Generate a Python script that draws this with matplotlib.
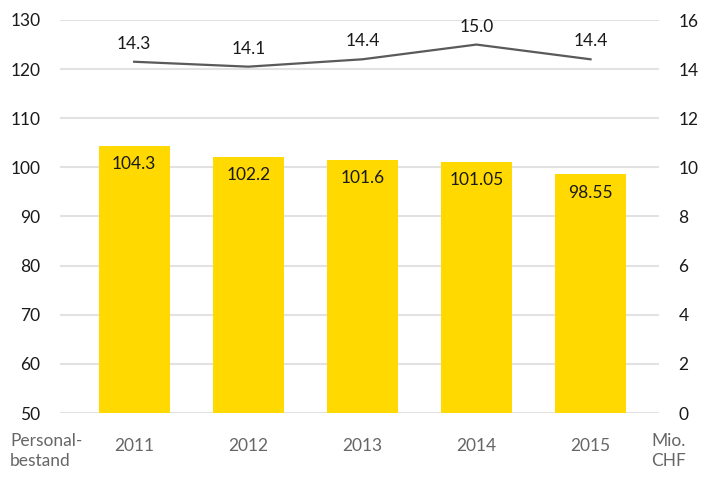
import matplotlib
matplotlib.use("Agg")
import matplotlib.pyplot as plt

years = ["2011", "2012", "2013", "2014", "2015"]
personalbestand = [104.3, 102.2, 101.6, 101.05, 98.55]
mio_chf = [14.3, 14.1, 14.4, 15.0, 14.4]
bar_labels = ["104.3", "102.2", "101.6", "101.05", "98.55"]
line_labels = ["14.3", "14.1", "14.4", "15.0", "14.4"]
left_ticks = [50, 60, 70, 80, 90, 100, 110, 120, 130]
right_ticks = [0, 2, 4, 6, 8, 10, 12, 14, 16]

plt.rcParams["font.family"] = ["Lato", "DejaVu Sans"]

fig = plt.figure(figsize=(7.02, 4.78), dpi=100)
ax = fig.add_axes([60 / 702, 1 - 413 / 478, 599 / 702, 393 / 478])
ax2 = ax.twinx()

x = list(range(len(years)))
ax.bar(x, [v - 50 for v in personalbestand], bottom=50, width=0.62,
       color="#FFD900", zorder=3)
for xi, v, lab in zip(x, personalbestand, bar_labels):
    ax.annotate(lab, (xi, v), xytext=(0, -13), textcoords="offset points",
                ha="center", va="center", fontsize=12.5, color="#1a1a1a", zorder=4)

ax2.plot(x, mio_chf, color="#5a5a5a", lw=1.6, zorder=3)
for xi, v, lab in zip(x, mio_chf, line_labels):
    ax2.annotate(lab, (xi, v), xytext=(0, 13), textcoords="offset points",
                 ha="center", va="center", fontsize=12.5, color="#1a1a1a")

ax.set_ylim(50, 130)
ax2.set_ylim(0, 16)
ax.set_xlim(-0.65, 4.6)
ax.set_yticks(left_ticks)
ax2.set_yticks(right_ticks)
ax.set_xticks(x)
ax.set_xticklabels(years)

ax.grid(axis="y", color="#e2e2e2", lw=1.5, zorder=0)
ax.set_axisbelow(True)
for a in (ax, ax2):
    for s in a.spines.values():
        s.set_visible(False)
ax.tick_params(axis="y", length=0, pad=14, labelsize=12.5, labelcolor="#1a1a1a")
ax2.tick_params(axis="y", length=0, pad=14, labelsize=12.5, labelcolor="#1a1a1a")
ax.tick_params(axis="x", length=0, pad=18, labelsize=12.5, labelcolor="#666666")

fig.text(10 / 702, 1 - 451 / 478, "Personal-\nbestand", ha="left", va="center",
         fontsize=12.5, color="#666666", linespacing=1.3)
fig.text(651 / 702, 1 - 451 / 478, "Mio.\nCHF", ha="left", va="center",
         fontsize=12.5, color="#666666", linespacing=1.3)

fig.savefig("out.png", dpi=100)
